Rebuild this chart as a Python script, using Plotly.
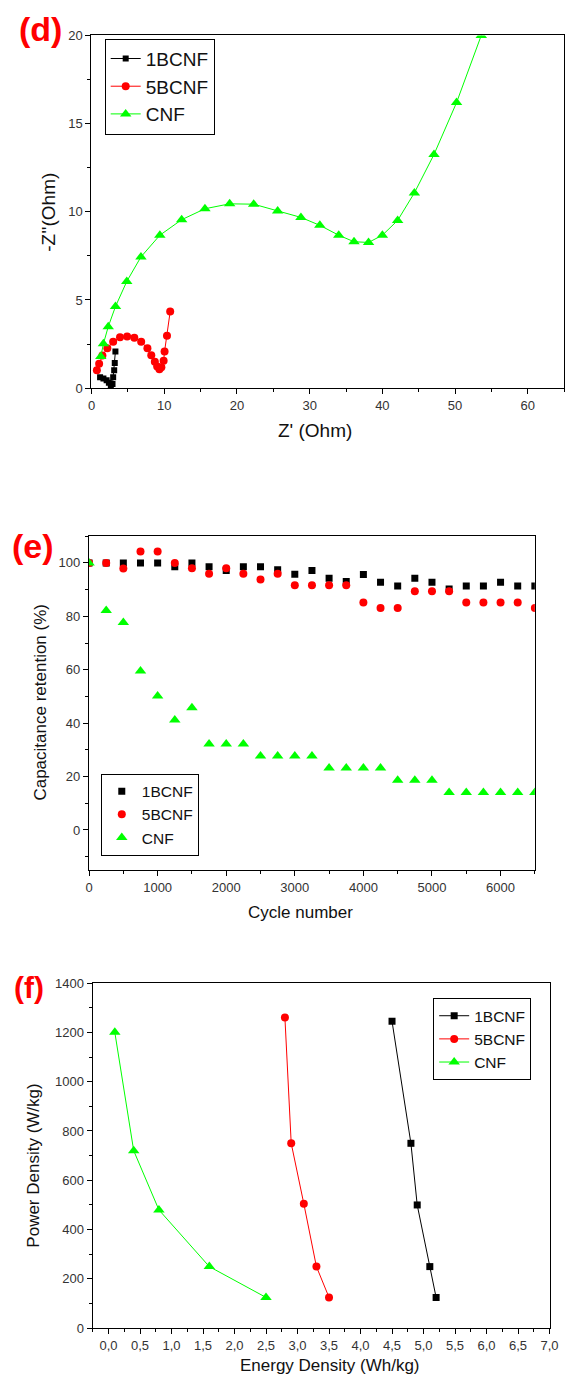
import plotly.graph_objects as go

W, H = 581, 1386

# ---------- (d) Nyquist plots ----------
d_1bcnf_x = [1.18, 1.64, 2.08, 2.39, 2.66, 2.89, 2.98, 3.12, 3.20, 3.29]
d_1bcnf_y = [0.62, 0.54, 0.45, 0.30, 0.17, 0.24, 0.62, 1.01, 1.42, 2.08]
d_5bcnf_x = [0.74, 1.05, 1.50, 2.18, 2.98, 3.92, 4.90, 5.89, 6.83, 7.69,
             8.22, 8.71, 9.03, 9.34, 9.61, 9.92, 10.05, 10.38, 10.82]
d_5bcnf_y = [1.01, 1.38, 1.85, 2.26, 2.63, 2.88, 2.93, 2.86, 2.63, 2.26,
             1.87, 1.49, 1.23, 1.07, 1.19, 1.55, 2.08, 2.97, 4.34]
d_cnf_x = [1.28, 1.64, 2.30, 3.30, 4.85, 6.80, 9.40, 12.4, 15.6, 19.0, 22.3, 25.6,
           28.8, 31.4, 34.0, 36.1, 38.1, 40.0, 42.1, 44.4, 47.1, 50.2, 53.6]
d_cnf_y = [1.79, 2.52, 3.48, 4.63, 6.05, 7.44, 8.67, 9.55, 10.17, 10.45, 10.43, 10.04,
           9.68, 9.23, 8.67, 8.30, 8.26, 8.67, 9.51, 11.07, 13.25, 16.19, 20.0]

# ---------- (e) cycling stability ----------
e_cycles = [0, 250, 500, 750, 1000, 1250, 1500, 1750, 2000, 2250, 2500, 2750, 3000,
            3250, 3500, 3750, 4000, 4250, 4500, 4750, 5000, 5250, 5500, 5750, 6000,
            6250, 6500]
e_1bcnf = [100, 100, 100, 100, 100, 98.6, 100, 98.6, 97.2, 98.6, 98.6, 97.4, 95.8,
           97.2, 94.3, 93.0, 95.7, 92.8, 91.4, 94.3, 92.8, 90.2, 91.4, 91.4, 92.8,
           91.4, 91.4]
e_5bcnf = [100, 100, 97.9, 104.3, 104.3, 100, 98.0, 95.9, 98.0, 95.9, 93.8, 95.9, 91.6,
           91.6, 91.6, 91.6, 85.2, 83.1, 83.1, 89.4, 89.4, 89.4, 85.2, 85.2, 85.2,
           85.2, 83.1]
e_cnf = [100, 82.2, 77.7, 59.5, 50.2, 41.2, 45.8, 32.2, 32.2, 32.2, 27.7, 27.7, 27.7,
         27.7, 23.2, 23.2, 23.2, 23.2, 18.6, 18.6, 18.6, 14.0, 14.0, 14.0, 14.0,
         14.0, 14.0]

# ---------- (f) Ragone plot ----------
f_1bcnf_e = [4.5, 4.8, 4.9, 5.1, 5.2]
f_1bcnf_p = [1245, 750, 500, 250, 125]
f_5bcnf_e = [2.8, 2.9, 3.1, 3.3, 3.5]
f_5bcnf_p = [1260, 750, 505, 250, 125]
f_cnf_e = [0.1, 0.4, 0.8, 1.6, 2.5]
f_cnf_p = [1200, 720, 480, 250, 125]
f_xticks = [0.0, 0.5, 1.0, 1.5, 2.0, 2.5, 3.0, 3.5, 4.0, 4.5, 5.0, 5.5, 6.0, 6.5, 7.0]
f_xticktext = ["0,0", "0,5", "1,0", "1,5", "2,0", "2,5", "3,0", "3,5", "4,0",
               "4,5", "5,0", "5,5", "6,0", "6,5", "7,0"]

BLACK, RED, GREEN = "#000000", "#FF0000", "#00FF00"
FONT = "Liberation Sans, Arial, sans-serif"


def px_x(p):
    return p / W


def px_y(p):
    return 1 - p / H


fig = go.Figure()


def add(x, y, name, color, symbol, size, mode, xa, ya, legend):
    fig.add_trace(go.Scatter(
        x=x, y=y, name=name, mode=mode, xaxis=xa, yaxis=ya, legend=legend,
        marker=dict(color=color, symbol=symbol, size=size, line=dict(width=0)),
        line=dict(color=color, width=1)))


# (d)
add(d_1bcnf_x, d_1bcnf_y, "1BCNF", BLACK, "square", 6, "lines+markers", "x", "y", "legend")
add(d_5bcnf_x, d_5bcnf_y, "5BCNF", RED, "circle", 8, "lines+markers", "x", "y", "legend")
add(d_cnf_x, d_cnf_y, "CNF", GREEN, "triangle-up", 10, "lines+markers", "x", "y", "legend")
# (e)
add(e_cycles, e_1bcnf, "1BCNF", BLACK, "square", 7, "markers", "x2", "y2", "legend2")
add(e_cycles, e_5bcnf, "5BCNF", RED, "circle", 8, "markers", "x2", "y2", "legend2")
add(e_cycles, e_cnf, "CNF", GREEN, "triangle-up", 10, "markers", "x2", "y2", "legend2")
# (f)
add(f_1bcnf_e, f_1bcnf_p, "1BCNF", BLACK, "square", 7, "lines+markers", "x3", "y3", "legend3")
add(f_5bcnf_e, f_5bcnf_p, "5BCNF", RED, "circle", 8, "lines+markers", "x3", "y3", "legend3")
add(f_cnf_e, f_cnf_p, "CNF", GREEN, "triangle-up", 10, "lines+markers", "x3", "y3", "legend3")


def axis(domain, rng, anchor, minor_dtick, **kw):
    d = dict(domain=domain, range=rng, anchor=anchor, showgrid=False, zeroline=False,
             showline=True, linecolor="black", linewidth=1.3, mirror=True,
             ticks="outside", ticklen=5, tickwidth=1, tickcolor="black",
             tickfont=dict(family=FONT, size=13, color="#333"),
             minor=dict(dtick=minor_dtick, ticks="outside", ticklen=3,
                        tickcolor="black", showgrid=False))
    d.update(kw)
    return d


d_xdom = [px_x(89.5), px_x(573)]
d_ydom = [px_y(385.3), px_y(28.7)]
e_xdom = [px_x(87), px_x(543)]
e_ydom = [px_y(872.5), px_y(535)]
f_xdom = [px_x(90.8), px_x(558)]
f_ydom = [px_y(1335.7), px_y(986.7)]

legend_common = dict(xanchor="left", yanchor="top", bgcolor="white",
                     bordercolor="black", borderwidth=1, traceorder="normal",
                     tracegroupgap=0)

fig.update_layout(
    width=W, height=H, margin=dict(l=0, r=0, t=0, b=0),
    paper_bgcolor="white", plot_bgcolor="white",
    font=dict(family=FONT, color="#222"),
    xaxis=axis(d_xdom, [0, 65], "y", 5, dtick=10, tick0=0),
    yaxis=axis(d_ydom, [0, 20], "x", 2.5, dtick=5, tick0=0),
    xaxis2=axis(e_xdom, [0, 6500], "y2", 500, dtick=1000, tick0=0),
    yaxis2=axis(e_ydom, [-15, 110], "x2", 10, tickvals=[0, 20, 40, 60, 80, 100]),
    xaxis3=axis(f_xdom, [-0.25, 7.0], "y3", 0.25, tickvals=f_xticks, ticktext=f_xticktext),
    yaxis3=axis(f_ydom, [0, 1400], "x3", 100, dtick=200, tick0=0),
    legend=dict(x=px_x(103), y=px_y(32), font=dict(family=FONT, size=19, color="#111"),
                **legend_common),
    legend2=dict(x=px_x(99), y=px_y(775), font=dict(family=FONT, size=15.5, color="#111"),
                 **legend_common),
    legend3=dict(x=px_x(439), y=px_y(1002), font=dict(family=FONT, size=15.5, color="#111"),
                 **legend_common),
    showlegend=True,
)

annotations = [
    # panel letters
    dict(text="<b>(d)</b>", x=px_x(37), y=px_y(22), font=dict(size=34, color=RED)),
    dict(text="<b>(e)</b>", x=px_x(30), y=px_y(545), font=dict(size=34, color=RED)),
    dict(text="<b>(f)</b>", x=px_x(26), y=px_y(991), font=dict(size=30, color=RED)),
    # axis titles
    dict(text="Z' (Ohm)", x=px_x(318), y=px_y(428), font=dict(size=19, color="#111")),
    dict(text="-Z''(Ohm)", x=px_x(46), y=px_y(207), textangle=-90,
         font=dict(size=19, color="#111")),
    dict(text="Cycle number", x=px_x(303), y=px_y(915), font=dict(size=17, color="#111")),
    dict(text="Capacitance retention (%)", x=px_x(37), y=px_y(703), textangle=-90,
         font=dict(size=17, color="#111")),
    dict(text="Energy Density (Wh/kg)", x=px_x(333), y=px_y(1373),
         font=dict(size=17, color="#111")),
    dict(text="Power Density (W/kg)", x=px_x(30), y=px_y(1171), textangle=-90,
         font=dict(size=17, color="#111")),
]
for a in annotations:
    a.update(xref="paper", yref="paper", showarrow=False, xanchor="center", yanchor="middle")
    a["font"]["family"] = FONT
fig.update_layout(annotations=annotations)

fig.write_html("out.html")
